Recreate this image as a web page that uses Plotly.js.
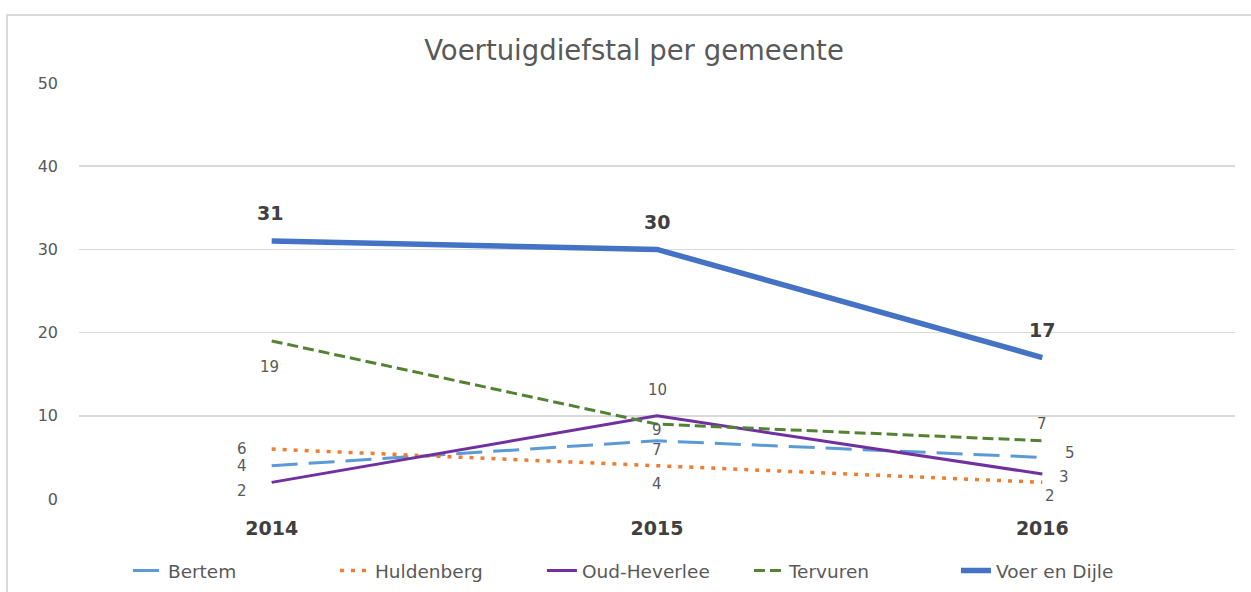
<!DOCTYPE html>
<html>
<head>
<meta charset="utf-8">
<script src="https://cdn.plot.ly/plotly-3.0.1.min.js"></script>
<style>
  html, body { margin: 0; padding: 0; background: #ffffff; }
  #frame { position: absolute; left: 6px; top: 14px; width: 1260px; height: 600px;
           border-left: 2px solid #d9d9d9; border-top: 2px solid #d9d9d9; box-sizing: border-box; }
  #chart { position: absolute; left: 0; top: 0; width: 1251px; height: 592px; }
</style>
</head>
<body>
<div id="frame"></div>
<div id="chart"></div>
<script>
// ---- data ----
const years = ["2014", "2015", "2016"];
const seriesNames = ["Bertem", "Huldenberg", "Oud-Heverlee", "Tervuren", "Voer en Dijle"];
const bertem = [4, 7, 5];
const huldenberg = [6, 4, 2];
const oudHeverlee = [2, 10, 3];
const tervuren = [19, 9, 7];
const voerEnDijle = [31, 30, 17];
const yTicks = [0, 10, 20, 30, 40, 50];

// ---- styles ----
const styles = [
  {color: "#5B9BD5", width: 3, dash: "26px,11px"},
  {color: "#ED7D31", width: 3.5, dash: "4px,7px"},
  {color: "#7030A0", width: 3, dash: "solid"},
  {color: "#548235", width: 3, dash: "11px,5px"},
  {color: "#4472C4", width: 5.5, dash: "solid"}
];
// label offsets (px) per series, per point: [dx, dy] (dy down positive)
const labelOffsets = [
  [[-30, 0], [0, 9], [28, -4]],
  [[-30, 0], [0, 18], [8, 14]],
  [[-30, 9], [0, -26], [22, 3]],
  [[-2, 26], [0, 6], [0, -17]],
  [[-2, -28], [0, -27], [0, -28]]
];
const allValues = [bertem, huldenberg, oudHeverlee, tervuren, voerEnDijle];

const traces = allValues.map((vals, i) => ({
  type: "scatter",
  mode: "lines",
  name: seriesNames[i],
  x: years,
  y: vals,
  line: {color: styles[i].color, width: styles[i].width, dash: styles[i].dash, shape: "linear"}
}));

const annotations = [];
allValues.forEach((vals, i) => {
  vals.forEach((v, j) => {
    const big = i === 4;
    annotations.push({
      x: j, y: v, xref: "x", yref: "y",
      text: String(v), showarrow: false,
      xshift: labelOffsets[i][j][0], yshift: -labelOffsets[i][j][1],
      font: {family: "DejaVu Sans, sans-serif", size: big ? 19 : 15,
             color: big ? "#404040" : "#595959"}
    });
  });
});

const layout = {
  width: 1251, height: 592,
  margin: {l: 79, r: 16, t: 83, b: 93, pad: 0, autoexpand: false},
  paper_bgcolor: "rgba(0,0,0,0)",
  plot_bgcolor: "rgba(0,0,0,0)",
  title: {
    text: "Voertuigdiefstal per gemeente",
    font: {family: "DejaVu Sans, sans-serif", size: 27.5, color: "#595959"},
    x: 634 / 1251, xanchor: "center", xref: "container",
    y: 1 - 50 / 592, yanchor: "middle"
  },
  xaxis: {
    type: "category",
    range: [-0.5, 2.5],
    showgrid: false, zeroline: false, showline: false,
    ticks: "",
    tickfont: {family: "DejaVu Sans, sans-serif", size: 19, color: "#404040", weight: "bold"},
    ticklabelstandoff: 16
  },
  yaxis: {
    range: [0, 50],
    tickvals: yTicks,
    ticktext: yTicks.map(String),
    showgrid: true, gridcolor: "#d9d9d9", gridwidth: 1.5,
    zeroline: false, showline: false, ticks: "",
    tickfont: {family: "DejaVu Sans, sans-serif", size: 16, color: "#595959"},
    ticklabelstandoff: 20
  },
  showlegend: true,
  legend: {
    orientation: "h",
    x: 0.49, xanchor: "center",
    y: -0.173, yanchor: "middle",
    entrywidth: 162, entrywidthmode: "pixels",
    font: {family: "DejaVu Sans, sans-serif", size: 18.5, color: "#595959"},
    bgcolor: "rgba(0,0,0,0)"
  },
  annotations: annotations
};

Plotly.newPlot("chart", traces, layout, {displayModeBar: false, staticPlot: true})
  .then(() => {
    annotations.forEach((a, k) => { a.font.weight = (k >= 12) ? "bold" : "normal"; });
    return Plotly.relayout("chart", {annotations: annotations});
  });
</script>
</body>
</html>
